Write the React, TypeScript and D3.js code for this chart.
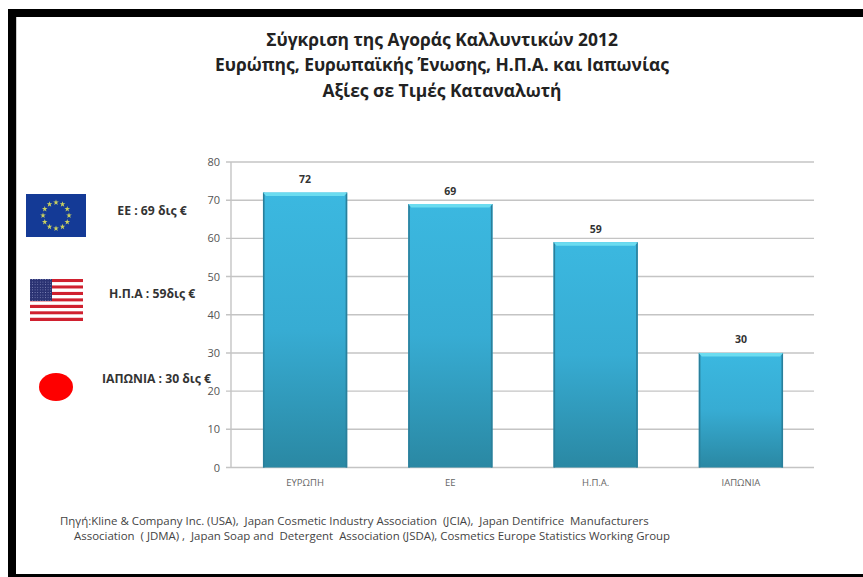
import React from "react";
import * as d3 from "d3";

const categories = ["ΕΥΡΩΠΗ", "ΕΕ", "Η.Π.Α.", "ΙΑΠΩΝΙΑ"];
const values = [72, 69, 59, 30];
const yTicks = [0, 10, 20, 30, 40, 50, 60, 70, 80];
const titleLines = [
  "Σύγκριση της Αγοράς Καλλυντικών 2012",
  "Ευρώπης, Ευρωπαϊκής Ένωσης, Η.Π.Α. και Ιαπωνίας",
  "Αξίες σε Τιμές Καταναλωτή",
];
const legendLabels = ["ΕΕ : 69 δις €", "Η.Π.Α : 59δις €", "ΙΑΠΩΝΙΑ : 30 δις €"];
const sourceLines = [
  "Πηγή:Kline & Company Inc. (USA),  Japan Cosmetic Industry Association  (JCIA),  Japan Dentifrice  Manufacturers",
  "Association  ( JDMA) ,  Japan Soap and  Detergent  Association (JSDA), Cosmetics Europe Statistics Working Group",
];

const font = "'Open Sans', 'Noto Sans', sans-serif";
const W = 863;
const H = 577;
const plot = { left: 231, right: 814, top: 162, bottom: 467.5 };

const x = d3.scaleBand<string>().domain(categories).range([plot.left, plot.right + 1]).paddingInner(0.42).paddingOuter(0.22);
const y = d3.scaleLinear().domain([0, 80]).range([plot.bottom, plot.top]);

// Twelve stars on the EU flag, each a five-pointed d3 star path
const star = d3.symbol().type(d3.symbolStar).size(10)();
const starAngles = d3.range(12).map((i) => (i * Math.PI) / 6);

// Thirteen alternating stripes on the US flag
const stripes = d3.range(13);

export default function App() {
  const bw = x.bandwidth();
  return (
    <svg width={W} height={H} viewBox={`0 0 ${W} ${H}`} style={{ position: "absolute", left: 0, top: 0, background: "#fff" }}>
      <defs>
        <linearGradient id="barFill" x1="0" y1="0" x2="0" y2="1">
          <stop offset="0" stopColor="#3bb8e0" />
          <stop offset="0.5" stopColor="#37acd3" />
          <stop offset="1" stopColor="#2a88a3" />
        </linearGradient>
        <pattern id="cantonDots" width={2.6} height={2.6} patternUnits="userSpaceOnUse">
          <circle cx={1.3} cy={1.3} r={0.5} fill="#8f95c4" />
        </pattern>
      </defs>

      {/* Black picture frame */}
      <rect x={8} y={9} width={W - 8} height={8} fill="#000" />
      <rect x={8} y={9} width={8} height={H - 9} fill="#000" />
      <rect x={8} y={574} width={W - 8} height={3} fill="#000" />
      <line x1={16.5} x2={16.5} y1={17} y2={350} stroke="#ccc" />

      {titleLines.map((t, i) => (
        <text key={t} x={442} y={[46, 71, 97][i]} textAnchor="middle" fontFamily={font} fontWeight={700} fontSize={17.4} fill="#222">
          {t}
        </text>
      ))}

      {/* Gridlines and y axis */}
      {yTicks.map((t) => (
        <g key={t}>
          <line x1={plot.left - 5} x2={plot.right} y1={y(t)} y2={y(t)} stroke="#c4c4c4" strokeWidth={1.4} />
          <text x={220} y={y(t) + 4} textAnchor="end" fontFamily={font} fontSize={11} fill="#555">
            {t}
          </text>
        </g>
      ))}
      <line x1={plot.left} x2={plot.left} y1={plot.top} y2={plot.bottom} stroke="#c4c4c4" strokeWidth={1.4} />

      {/* Bars with a bevelled top and darker side edges */}
      {categories.map((c, i) => {
        const bx = x(c)!;
        const top = y(values[i]);
        const h = plot.bottom - top;
        return (
          <g key={c}>
            <rect x={bx} y={top} width={bw} height={h} fill="url(#barFill)" />
            <rect x={bx} y={top} width={1.6} height={h} fill="#2a7f9b" />
            <rect x={bx + bw - 1.6} y={top} width={1.6} height={h} fill="#2a7f9b" />
            <path d={`M${bx},${top} H${bx + bw} L${bx + bw - 3},${top + 3.5} H${bx + 3} Z`} fill="#6bdcf0" />
            <text x={bx + bw / 2} y={top - 9.5} textAnchor="middle" fontFamily={font} fontWeight={700} fontSize={10.5} fill="#333">
              {values[i]}
            </text>
            <text x={bx + bw / 2} y={486} textAnchor="middle" fontFamily={font} fontSize={9.5} fill="#666">
              {c}
            </text>
          </g>
        );
      })}

      {/* EU flag */}
      <rect x={26} y={194} width={60} height={43} fill="#143a96" />
      {starAngles.map((a, i) => (
        <path key={i} d={star!} transform={`translate(${56 + 13 * Math.sin(a)},${215.5 - 13 * Math.cos(a)})`} fill="#c9d060" />
      ))}

      {/* US flag */}
      {stripes.map((s) => (
        <rect key={s} x={30} y={279 + (s * 42) / 13} width={53} height={42 / 13} fill={s % 2 === 0 ? "#d0202f" : "#fff"} />
      ))}
      <rect x={30} y={279} width={22} height={22} fill="#2a3272" />
      <rect x={30} y={279} width={22} height={22} fill="url(#cantonDots)" />

      {/* Japanese disc */}
      <ellipse cx={56} cy={387} rx={17} ry={14} fill="#fe0000" />

      {legendLabels.map((l, i) => (
        <text
          key={l}
          x={[152, 152, 156.5][i]}
          y={[215, 298, 383][i]}
          textAnchor="middle"
          fontFamily={font}
          fontWeight={700}
          fontSize={12.2}
          fill="#333"
        >
          {l}
        </text>
      ))}

      {sourceLines.map((s, i) => (
        <text key={s} x={[60, 74][i]} y={[525, 540][i]} fontFamily={font} fontSize={11.45} fill="#444" style={{ whiteSpace: "pre" }}>
          {s}
        </text>
      ))}
    </svg>
  );
}
